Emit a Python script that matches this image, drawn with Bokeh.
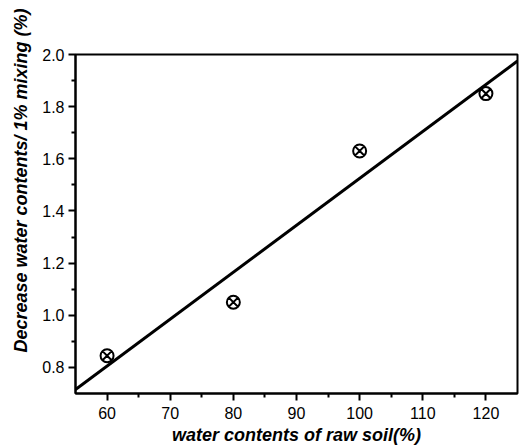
from bokeh.plotting import figure
from bokeh.models import Range1d, FixedTicker, NumeralTickFormatter, Title
from bokeh.embed import file_html
from bokeh.resources import INLINE

# data
water_raw = [60, 80, 100, 120]
decrease = [0.845, 1.05, 1.63, 1.85]
fit_x = [55, 125]
fit_y = [0.715, 1.975]
x_ticks = [60, 70, 80, 90, 100, 110, 120]
y_ticks = [0.8, 1.0, 1.2, 1.4, 1.6, 1.8, 2.0]

FONT = "Liberation Sans"

p = figure(width=520, height=447, output_backend="svg", toolbar_location=None,
           x_range=Range1d(55, 125), y_range=Range1d(0.7, 2.0),
           min_border_left=75, min_border_right=3, min_border_top=54, min_border_bottom=52)
p.outline_line_color = "black"
p.outline_line_width = 2
p.xgrid.visible = False
p.ygrid.visible = False
p.background_fill_color = "white"
p.border_fill_color = "white"

p.line(fit_x, fit_y, line_color="black", line_width=3)
p.scatter(water_raw, decrease, marker="circle_x", size=13, fill_color=None,
          line_color="black", line_width=2)

for ax in (p.xaxis[0], p.yaxis[0]):
    ax.axis_line_width = 2
    ax.axis_line_color = "black"
    ax.major_tick_line_width = 2
    ax.minor_tick_line_width = 2
    ax.major_tick_in = 0
    ax.major_tick_out = 7
    ax.minor_tick_in = 0
    ax.minor_tick_out = 4
    ax.major_label_text_font = FONT
    ax.major_label_text_font_size = "16px"
    ax.major_label_text_color = "black"

p.xaxis[0].ticker = FixedTicker(ticks=x_ticks, minor_ticks=[65, 75, 85, 95, 105, 115])
p.yaxis[0].ticker = FixedTicker(ticks=y_ticks, minor_ticks=[0.9, 1.1, 1.3, 1.5, 1.7, 1.9])
p.yaxis[0].formatter = NumeralTickFormatter(format="0.0")
p.yaxis[0].major_label_standoff = 4
p.xaxis[0].major_label_standoff = 6

p.xaxis[0].axis_label = "water contents of raw soil(%)"
p.xaxis[0].axis_label_text_font = FONT
p.xaxis[0].axis_label_text_font_style = "bold italic"
p.xaxis[0].axis_label_text_font_size = "18px"
p.xaxis[0].axis_label_text_color = "black"
p.xaxis[0].axis_label_standoff = 3

ytitle = Title(text="Decrease water contents/ 1% mixing (%)", align="right", offset=-46,
               text_font=FONT, text_font_style="bold italic", text_font_size="18px",
               text_color="black", standoff=17)
p.add_layout(ytitle, "left")

open("out.html", "w").write(file_html(p, INLINE))
